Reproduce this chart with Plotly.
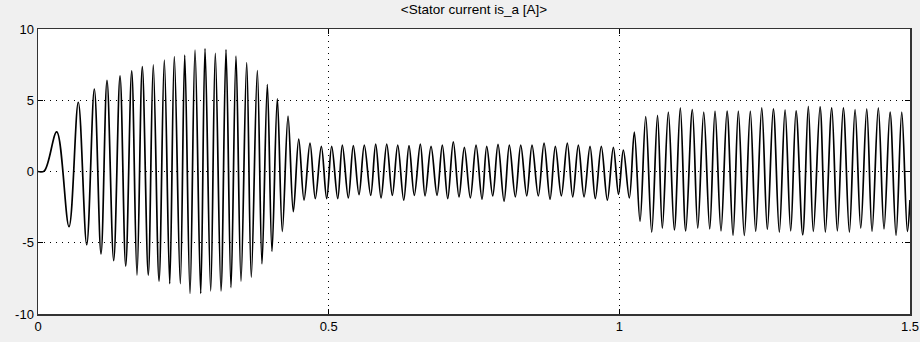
import plotly.graph_objects as go

# Time instants (s) of the waveform's turning points
t_start = [0.000, 0.011]
i_start = [0.00, 0.05]

t_run_up = [0.0322, 0.0533, 0.0693, 0.0838, 0.0969, 0.1084, 0.1187, 0.1302, 0.1411, 0.1509,
            0.1612, 0.1703, 0.1794, 0.1897, 0.1983, 0.2082, 0.2173, 0.2266, 0.2345, 0.2448,
            0.2524, 0.2615, 0.2701, 0.2799, 0.2873, 0.2971, 0.3050, 0.3148, 0.3234, 0.3320,
            0.3406, 0.3492, 0.3590, 0.3669, 0.3773, 0.3853, 0.3945, 0.4025, 0.4117, 0.4203,
            0.4301, 0.4392, 0.4485, 0.4576, 0.4679, 0.4770, 0.4874, 0.4966]
i_run_up = [2.78, -3.87, 4.86, -5.14, 5.79, -5.79, 6.39, -6.25, 6.71, -6.64,
            7.06, -7.27, 7.36, -7.27, 7.48, -7.69, 7.82, -7.87, 8.06, -7.87,
            8.17, -8.56, 8.52, -8.56, 8.63, -8.38, 8.29, -8.38, 8.56, -8.15,
            8.10, -7.69, 7.64, -7.41, 7.08, -6.48, 6.09, -5.60, 5.09, -4.21,
            3.89, -2.82, 2.27, -2.01, 1.99, -1.90, 1.76, -1.90]

t_no_load = [0.5052, 0.5156, 0.5235, 0.5338, 0.5424, 0.5522, 0.5613, 0.5723, 0.5809, 0.5901,
             0.5999, 0.6095, 0.6188, 0.6291, 0.6382, 0.6473, 0.6577, 0.6658, 0.6761, 0.6864,
             0.6955, 0.7048, 0.7144, 0.7242, 0.7334, 0.7437, 0.7535, 0.7638, 0.7719, 0.7822,
             0.7913, 0.8017, 0.8108, 0.8211, 0.8304, 0.8407, 0.8498, 0.8606, 0.8705, 0.8808,
             0.8899, 0.9002, 0.9105, 0.9198, 0.9295, 0.9393, 0.9496, 0.9587, 0.9690, 0.9794,
             0.9897, 0.9986]
i_no_load = [1.76, -1.90, 1.85, -1.85, 1.81, -1.62, 1.85, -1.67, 1.92, -1.85,
             1.92, -1.67, 1.85, -2.01, 1.81, -1.67, 1.92, -1.71, 1.76, -1.67,
             1.85, -1.90, 2.08, -1.78, 1.69, -1.85, 1.85, -1.94, 1.76, -1.71,
             1.90, -2.08, 1.85, -1.78, 1.85, -1.71, 1.85, -1.71, 1.99, -1.94,
             1.76, -1.71, 1.99, -1.78, 1.85, -1.78, 1.76, -1.90, 1.76, -2.01,
             1.70, -1.60]

t_load = [1.0069, 1.0172, 1.0258, 1.0356, 1.0454, 1.0557, 1.0657, 1.0740, 1.0843, 1.0946,
          1.1049, 1.1142, 1.1256, 1.1349, 1.1452, 1.1555, 1.1646, 1.1749, 1.1853, 1.1956,
          1.2047, 1.2150, 1.2253, 1.2346, 1.2450, 1.2546, 1.2649, 1.2752, 1.2851, 1.2948,
          1.3040, 1.3155, 1.3251, 1.3337, 1.3453, 1.3544, 1.3654, 1.3750, 1.3853, 1.3957,
          1.4055, 1.4153, 1.4256, 1.4347, 1.4455, 1.4553, 1.4657, 1.4760, 1.4858, 1.4955,
          1.5000]
i_load = [1.50, -1.85, 2.76, -3.50, 3.86, -4.26, 3.94, -3.98, 4.17, -4.10,
          4.47, -4.17, 4.35, -3.98, 4.17, -4.03, 4.24, -4.17, 4.24, -4.49,
          4.24, -4.49, 4.24, -4.21, 4.47, -4.07, 4.40, -4.26, 4.33, -4.17,
          4.26, -4.44, 4.58, -4.21, 4.54, -4.26, 4.47, -4.17, 4.47, -4.26,
          4.35, -3.98, 4.40, -4.21, 4.47, -4.03, 4.17, -4.49, 4.17, -4.21,
          -2.00]

t = t_start + t_run_up + t_no_load + t_load
i_a = i_start + i_run_up + i_no_load + i_load

x_ticks = [0, 0.5, 1, 1.5]
x_tick_labels = ["0", "0.5", "1", "1.5"]
y_ticks = [-10, -5, 0, 5, 10]
y_tick_labels = ["-10", "-5", "0", "5", "10"]
title_text = "<Stator current is_a [A]>"

fig = go.Figure()
fig.add_trace(go.Scatter(
    x=t, y=i_a, mode="lines",
    line=dict(color="black", width=1.7, shape="spline", smoothing=1.0),
    showlegend=False, hoverinfo="skip", cliponaxis=True))

axis_common = dict(
    showline=True, linecolor="#333333", linewidth=1.5, mirror="ticks",
    ticks="inside", ticklen=5, tickcolor="black",
    showgrid=True, gridcolor="black", gridwidth=1, griddash="1px,5px",
    zeroline=False, automargin=False,
    tickfont=dict(family="Liberation Sans, Arial, sans-serif", size=13, color="black"),
)

fig.update_layout(
    width=920, height=342,
    margin=dict(l=38, r=10, t=29, b=28),
    paper_bgcolor="#f0f0f0",
    plot_bgcolor="white",
    title=dict(text=title_text, x=0.5, xref="paper", xanchor="center",
               y=1 - 5 / 342, yref="container", yanchor="top", pad=dict(t=0, b=0),
               font=dict(family="Liberation Sans Narrow, Liberation Sans, Arial, sans-serif",
                         size=13.5, color="black")),
    xaxis=dict(range=[0, 1.5], tickvals=x_ticks, ticktext=x_tick_labels, **axis_common),
    yaxis=dict(range=[-10, 10], tickvals=y_ticks, ticktext=y_tick_labels, **axis_common),
)

fig.write_html(
    "out.html",
    config={"displayModeBar": False, "staticPlot": True},
    post_script="document.body.style.margin='0';document.body.style.background='#f0f0f0';",
)
